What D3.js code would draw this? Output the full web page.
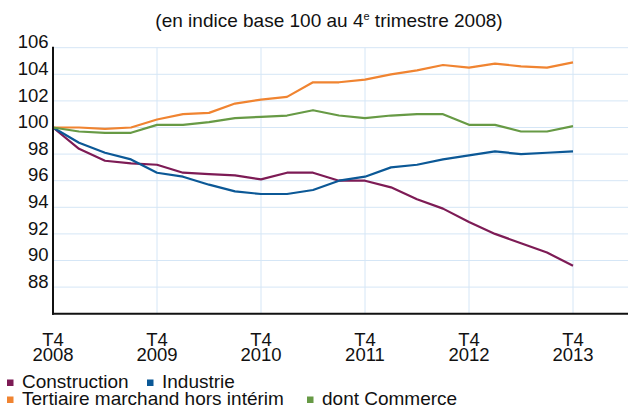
<!DOCTYPE html>
<html>
<head>
<meta charset="utf-8">
<script src="https://cdn.jsdelivr.net/npm/d3@7"></script>
<style>
  body { margin: 0; background: #fff; }
  svg { font-family: "Liberation Sans", Arial, Helvetica, sans-serif; }
</style>
</head>
<body>
<svg id="chart" width="628" height="407"></svg>
<script>
// quarters from T4 2008 to T4 2013
const quarters = d3.range(21);
const yearTicks = [0, 4, 8, 12, 16, 20];
const yearLabels = ["2008", "2009", "2010", "2011", "2012", "2013"];
const yTicks = [88, 90, 92, 94, 96, 98, 100, 102, 104, 106];

const construction = [100, 98.4, 97.5, 97.3, 97.2, 96.6, 96.5, 96.4, 96.1, 96.6, 96.6,
  96.0, 96.0, 95.5, 94.6, 93.9, 92.9, 92.0, 91.3, 90.6, 89.6];
const industrie = [100, 98.85, 98.1, 97.6, 96.6, 96.3, 95.7, 95.2, 95.0, 95.0, 95.3,
  96.0, 96.3, 97.0, 97.2, 97.6, 97.9, 98.2, 98.0, 98.1, 98.2];
const tertiaire = [100, 100.0, 99.9, 100.0, 100.6, 101.0, 101.1, 101.8, 102.1, 102.3, 103.4,
  103.4, 103.6, 104.0, 104.3, 104.7, 104.5, 104.8, 104.6, 104.5, 104.9];
const commerce = [100, 99.7, 99.6, 99.6, 100.2, 100.2, 100.4, 100.7, 100.8, 100.9, 101.3,
  100.9, 100.7, 100.9, 101.0, 101.0, 100.2, 100.2, 99.7, 99.7, 100.1];

const series = [
  { name: "Construction", values: construction, color: "#7d1b55" },
  { name: "Industrie", values: industrie, color: "#0b5896" },
  { name: "Tertiaire marchand hors intérim", values: tertiaire, color: "#f08431" },
  { name: "dont Commerce", values: commerce, color: "#679a45" },
];

const svg = d3.select("svg#chart");
const plotLeft = 53, plotRight = 628, plotTop = 47.7, plotBottom = 313.7;

const x = d3.scaleLinear().domain([0, 20]).range([plotLeft, 573]);
const y = d3.scaleLinear().domain([86, 106]).range([plotBottom, plotTop]);

// title
const title = svg.append("text")
  .attr("x", 329)
  .attr("y", 27)
  .attr("text-anchor", "middle")
  .attr("font-size", 19)
  .attr("fill", "#111");
title.append("tspan").text("(en indice base 100 au 4");
title.append("tspan").attr("font-size", 11).attr("dy", -7).text("e");
title.append("tspan").attr("dy", 7).text(" trimestre 2008)");

// grid
svg.append("g")
  .selectAll("line")
  .data(yTicks)
  .join("line")
  .attr("x1", plotLeft).attr("x2", plotRight)
  .attr("y1", (d) => y(d)).attr("y2", (d) => y(d))
  .attr("stroke", "#d5e6f6")
  .attr("stroke-width", 1);

svg.append("g")
  .selectAll("line")
  .data(yearTicks.slice(1))
  .join("line")
  .attr("x1", (d) => x(d)).attr("x2", (d) => x(d))
  .attr("y1", plotTop).attr("y2", plotBottom)
  .attr("stroke", "#d5e6f6")
  .attr("stroke-width", 1);

// y labels
svg.append("g")
  .selectAll("text")
  .data(yTicks)
  .join("text")
  .attr("x", 48.5)
  .attr("y", (d) => y(d) + 0.6)
  .attr("text-anchor", "end")
  .attr("font-size", 18.5)
  .attr("fill", "#111")
  .text((d) => d);

// x labels
const xl = svg.append("g")
  .selectAll("text")
  .data(yearTicks)
  .join("text")
  .attr("text-anchor", "middle")
  .attr("font-size", 18.5)
  .attr("fill", "#111");
xl.append("tspan").attr("x", (d) => x(d)).attr("y", 345.7).text("T4");
xl.append("tspan").attr("x", (d) => x(d)).attr("y", 361.3).text((d, i) => yearLabels[i]);

// lines
const line = d3.line()
  .x((d, i) => x(quarters[i]))
  .y((d) => y(d));

svg.append("g")
  .selectAll("path")
  .data(series)
  .join("path")
  .attr("d", (d) => line(d.values))
  .attr("fill", "none")
  .attr("stroke", (d) => d.color)
  .attr("stroke-width", 2.2)
  .attr("stroke-linejoin", "round");

// axes
svg.append("line")
  .attr("x1", plotLeft).attr("x2", plotLeft)
  .attr("y1", plotTop - 1).attr("y2", plotBottom + 1)
  .attr("stroke", "#111").attr("stroke-width", 2);
svg.append("line")
  .attr("x1", plotLeft - 1).attr("x2", plotRight)
  .attr("y1", plotBottom).attr("y2", plotBottom)
  .attr("stroke", "#111").attr("stroke-width", 2);

// legend
const legendPos = [[7, 388], [147, 388], [7, 405], [307, 405]];
const lg = svg.append("g")
  .selectAll("g")
  .data(series)
  .join("g")
  .attr("transform", (d, i) => `translate(${legendPos[i][0]},${legendPos[i][1]})`);
lg.append("rect")
  .attr("x", 0).attr("y", -8.5)
  .attr("width", 6.5).attr("height", 6.5)
  .attr("fill", (d) => d.color);
lg.append("text")
  .attr("x", 15).attr("y", 0)
  .attr("font-size", 19)
  .attr("fill", "#111")
  .text((d) => d.name);
</script>
</body>
</html>
